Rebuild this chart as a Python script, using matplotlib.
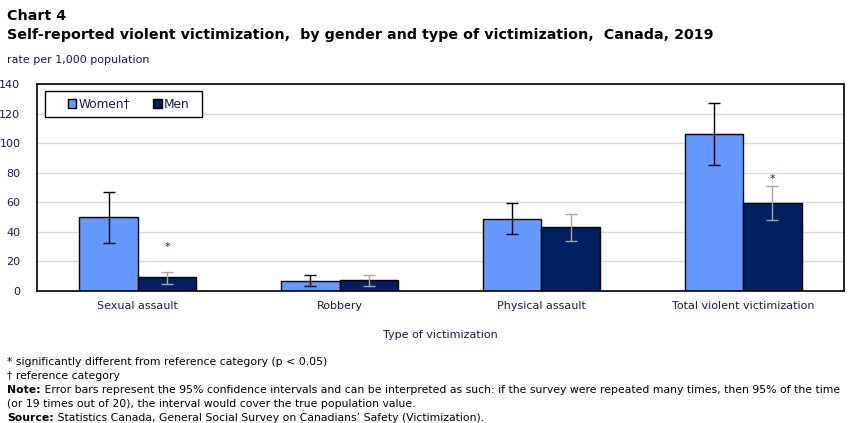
import numpy as np
import matplotlib.pyplot as plt
from matplotlib.patches import Rectangle

categories = ['Sexual assault', 'Robbery', 'Physical assault', 'Total violent victimization']
women = [49.8, 6.8, 48.5, 106.2]
women_low = [32.2, 3.2, 38.3, 85.0]
women_high = [67.1, 10.6, 59.3, 126.9]
men = [9.2, 7.4, 43.3, 59.3]
men_low = [4.7, 3.2, 33.6, 47.8]
men_high = [13.0, 10.6, 51.9, 70.8]
men_signif = [True, False, False, True]
star_y = [30, None, None, 75.5]
yticks = [0, 20, 40, 60, 80, 100, 120, 140]

women_color = '#6699FF'
men_color = '#002060'
text_color = '#1A1A4A'

fig = plt.figure(figsize=(8.51, 4.23), dpi=100)
ax = fig.add_axes([37/851, 1-291/423, (844-37)/851, (291-84)/423])

x = np.arange(len(categories))
w = 0.29
women = np.array(women)
men = np.array(men)
w_err = [women - np.array(women_low), np.array(women_high) - women]
m_err = [men - np.array(men_low), np.array(men_high) - men]

ax.bar(x - w/2, women, w, color=women_color, edgecolor='black', linewidth=1, label='Women†', zorder=2)
ax.bar(x + w/2, men, w, color=men_color, edgecolor='black', linewidth=1, label='Men', zorder=2)
ax.errorbar(x - w/2, women, yerr=w_err, fmt='none', ecolor='black', elinewidth=1, capsize=4, capthick=1, zorder=3)
ax.errorbar(x + w/2, men, yerr=m_err, fmt='none', ecolor='#A6A6A6', elinewidth=1, capsize=4, capthick=1, zorder=3)

for i, s in enumerate(men_signif):
    if s:
        ax.text(x[i] + w/2, star_y[i], '*', ha='center', va='center', fontsize=8, color=men_color)

ax.set_xlim(-0.5, len(categories) - 0.5)
ax.set_ylim(0, 140)
ax.set_yticks(yticks)
ax.set_xticks(x)
ax.set_xticklabels(categories, fontsize=8, color=text_color)
ax.tick_params(axis='y', length=0, pad=12, labelsize=8, labelcolor=text_color)
ax.tick_params(axis='x', length=0, pad=7)
ax.grid(axis='y', color='#D9D9D9', linewidth=1, zorder=0)
ax.set_axisbelow(True)
for sp in ax.spines.values():
    sp.set_linewidth(1.2)
    sp.set_color('black')
ax.set_xlabel('Type of victimization', fontsize=8, color=text_color, labelpad=14)

# legend box drawn separately so it can be wider than the entries
ax.add_patch(Rectangle(((45-37)/807, (291-117)/207), (202-45)/807, 26/207, transform=ax.transAxes,
                       facecolor='white', edgecolor='black', linewidth=1, zorder=4))
leg = ax.legend(loc='center left', bbox_to_anchor=((68-37)/807, (291-104)/207), ncol=2, fontsize=8.7,
                frameon=False, handlelength=0.7, handleheight=0.7,
                handletextpad=0.2, columnspacing=1.9, borderpad=0, borderaxespad=0)
leg.set_zorder(5)
for t in leg.get_texts():
    t.set_color(text_color)

fig.text(7/851, 1 - 20/423, 'Chart 4', fontsize=10.3, fontweight='bold', color='black')
fig.text(7/851, 1 - 39/423, 'Self-reported violent victimization,  by gender and type of victimization,  Canada, 2019',
         fontsize=10.3, fontweight='bold', color='black')
fig.text(7/851, 1 - 63/423, 'rate per 1,000 population', fontsize=8, color=text_color)

fn = 7.8
fig.text(7/851, 1 - 365/423, '* significantly different from reference category (p < 0.05)', fontsize=fn, color='black')
fig.text(7/851, 1 - 379/423, '† reference category', fontsize=fn, color='black')
note = fig.text(7/851, 1 - 393/423, 'Note:', fontsize=fn, fontweight='bold', color='black')
ax.annotate(' Error bars represent the 95% confidence intervals and can be interpreted as such: if the survey were repeated many times, then 95% of the time',
            xy=(1, 0), xycoords=note, fontsize=fn, color='black', va='bottom', annotation_clip=False)
fig.text(7/851, 1 - 407/423, '(or 19 times out of 20), the interval would cover the true population value.', fontsize=fn, color='black')
src = fig.text(7/851, 1 - 421/423, 'Source:', fontsize=fn, fontweight='bold', color='black')
ax.annotate(' Statistics Canada, General Social Survey on Canadians\u2019 Safety (Victimization).',
            xy=(1, 0), xycoords=src, fontsize=fn, color='black', va='bottom', annotation_clip=False)

fig.savefig('out.png', dpi=100)
